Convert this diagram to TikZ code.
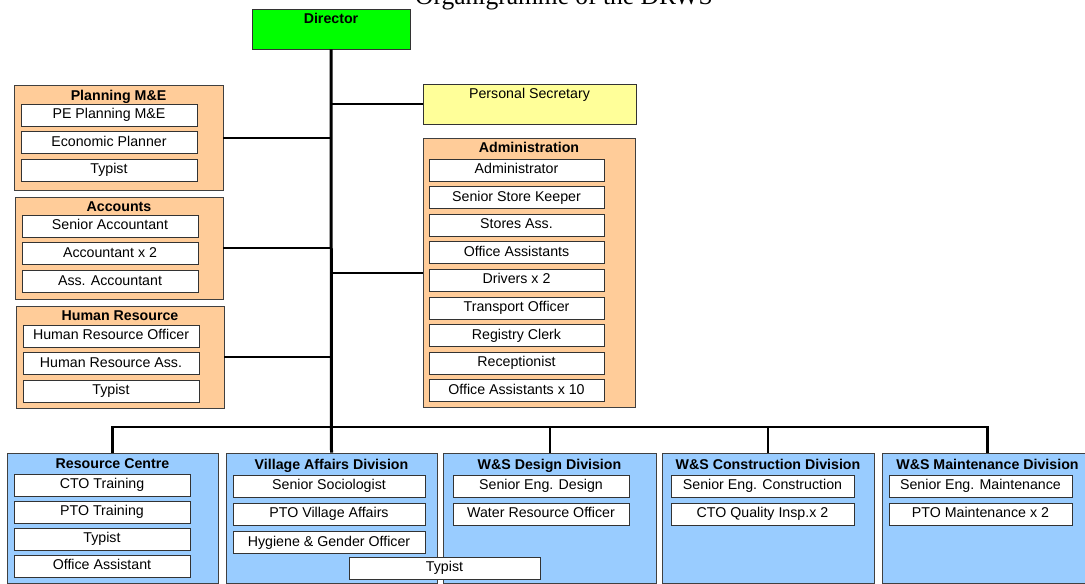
\documentclass[tikz,border=0pt]{standalone}
\usepackage{fontspec}
\setmainfont{Liberation Sans}
\newfontfamily\titlefont{Liberation Serif}
\usetikzlibrary{positioning}
\definecolor{dirgreen}{HTML}{00FF00}
\definecolor{secyellow}{HTML}{FFFF99}
\definecolor{unitorange}{HTML}{FFCC99}
\definecolor{divblue}{HTML}{99CCFF}

\begin{document}
\begin{tikzpicture}[x=1pt,y=-1pt,node distance=4.8pt,
 every node/.style={font=\fontsize{14.2}{17}\selectfont,inner sep=0pt},
 unit/.style={draw=black!75,line width=0.8pt,fill=unitorange,minimum width=208pt,minimum height=102pt},
 division/.style={draw=black!75,line width=0.8pt,fill=divblue,minimum width=211pt,minimum height=130pt},
 head/.style={font=\fontsize{14.2}{17}\selectfont\bfseries},
 post/.style={draw=black!80,line width=0.8pt,fill=white,minimum width=176pt,minimum height=22pt,text height=10pt,text depth=3pt},
 topbox/.style={draw=black!80,line width=0.8pt,minimum height=40pt,text height=10pt,text depth=22pt},
 trunk/.style={line width=3pt},
 link/.style={line width=2pt}]
\useasboundingbox (0,0) rectangle (1085,584);
\clip (0,0) rectangle (1085,584);

\node[font=\titlefont\fontsize{25.5}{30}\selectfont,anchor=base west] (title) at (415,4.5) {Organigramme of the DRWS};

% director and secretary
\node[topbox,head,fill=dirgreen,minimum width=158pt] (dir) at (331,29) {Director};
\node[topbox,fill=secyellow,minimum width=213pt] (sec) at (529.5,104) {Personal Secretary};

% planning
\node[unit,minimum width=209pt,minimum height=105pt] (plan) at (118.5,137.5) {};
\node[head,below=5pt of plan.north] (planhd) {Planning M\&E};
\node[post] (pepl) at (109,115) {PE Planning M\&E};
\node[post,below=of pepl] (econ) {Economic Planner};
\node[post,below=of econ] (plantyp) {Typist};

% accounts
\node[unit] (acc) at (119,248) {};
\node[head,below=5pt of acc.north] (acchd) {Accounts};
\node[post] (senacc) at (110,226) {Senior Accountant};
\node[post,below=5pt of senacc] (acctwo) {Accountant x 2};
\node[post,below=5pt of acctwo] (assacc) {Ass. Accountant};

% human resource
\node[unit] (hr) at (120,357) {};
\node[head,below=5pt of hr.north] (hrhd) {Human Resource};
\node[post] (hroff) at (111,336) {Human Resource Officer};
\node[post,below=of hroff] (hrass) {Human Resource Ass.};
\node[post,below=of hrass] (hrtyp) {Typist};

% administration
\node[unit,minimum width=212pt,minimum height=269pt] (admin) at (529,272.5) {};
\node[head,below=4pt of admin.north] (adminhd) {Administration};
\node[post,minimum width=175pt] (adm) at (516.5,170) {Administrator};
\node[post,minimum width=175pt,below=of adm] (store) {Senior Store Keeper};
\node[post,minimum width=175pt,below=of store] (storeass) {Stores Ass.};
\node[post,minimum width=175pt,below=of storeass] (offass) {Office Assistants};
\node[post,minimum width=175pt,below=of offass] (drivers) {Drivers x 2};
\node[post,minimum width=175pt,below=of drivers] (transp) {Transport Officer};
\node[post,minimum width=175pt,below=of transp] (registry) {Registry Clerk};
\node[post,minimum width=175pt,below=of registry] (recep) {Receptionist};
\node[post,minimum width=175pt,below=of recep] (offten) {Office Assistants x 10};

% divisions
\node[division] (res) at (112.5,518) {};
\node[head,below=6pt of res.north] (reshd) {Resource Centre};
\node[post] (ctotr) at (102,485) {CTO Training};
\node[post,below=4.2pt of ctotr] (ptotr) {PTO Training};
\node[post,below=4.2pt of ptotr] (restyp) {Typist};
\node[post,below=4.2pt of restyp] (resoff) {Office Assistant};

\node[division] (vil) at (331.5,518) {};
\node[head,below=6pt of vil.north] (vilhd) {Village Affairs Division};
\node[post,minimum width=192pt] (socio) at (329,486) {Senior Sociologist};
\node[post,minimum width=192pt,below=5.5pt of socio] (ptovil) {PTO Village Affairs};
\node[post,minimum width=192pt,below=5.5pt of ptovil] (hygiene) {Hygiene \& Gender Officer};

\node[division,minimum width=213pt] (des) at (549.5,518) {};
\node[head,below=6pt of des.north] (deshd) {W\&S Design Division};
\node[post] (engdes) at (541,486) {Senior Eng. Design};
\node[post,below=5.5pt of engdes] (water) {Water Resource Officer};

\node[post,minimum width=191pt] (viltyp) at (444.5,568) {Typist};

\node[division,minimum width=212pt] (con) at (768,518) {};
\node[head,below=6pt of con.north] (conhd) {W\&S Construction Division};
\node[post,minimum width=183pt] (engcon) at (762.5,486) {Senior Eng. Construction};
\node[post,minimum width=183pt,below=5.5pt of engcon] (quality) {CTO Quality Insp.x 2};

\node[division] (mnt) at (987.5,518) {};
\node[head,below=6pt of mnt.north] (mnthd) {W\&S Maintenance Division};
\node[post,minimum width=183pt] (engmnt) at (980.5,486) {Senior Eng. Maintenance};
\node[post,minimum width=183pt,below=5.5pt of engmnt] (ptomnt) {PTO Maintenance x 2};

% connectors
\coordinate (bus) at (332,427);
\draw[trunk] (dir.south) -- (vil.north);
\draw[link,line width=2.3pt] (res.north) |- (bus) -| (mnt.north);
\draw[link] (des.north) -- (des.north |- bus);
\draw[link] (con.north) -- (con.north |- bus);
\draw[link] (plan.east) -- (plan.east -| dir.south);
\draw[link] (acc.east) -- (acc.east -| dir.south);
\draw[link] (hr.east) -- (hr.east -| dir.south);
\draw[link] (sec.west) -- (sec.west -| dir.south);
\draw[link] (admin.west) -- (admin.west -| dir.south);
\end{tikzpicture}
\end{document}
